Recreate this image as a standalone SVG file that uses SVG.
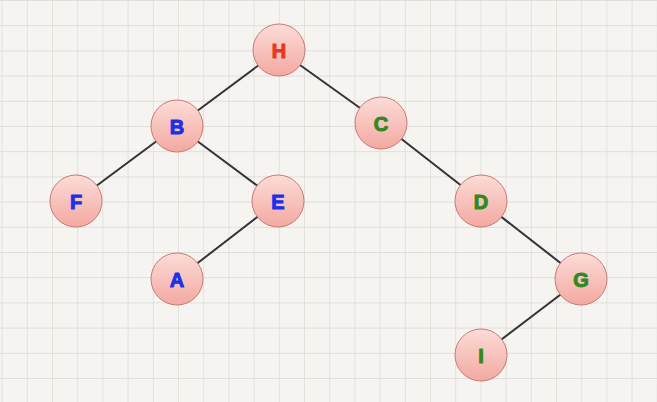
<svg xmlns="http://www.w3.org/2000/svg" width="657" height="402" viewBox="0 0 657 402">
  <defs>
    <pattern id="grid" x="1.6" y="0" width="25.2" height="25.2" patternUnits="userSpaceOnUse">
      <path d="M0 0 V25.2 M0 0 H25.2" fill="none" stroke="#d9d8d4" stroke-width="1.3"/>
    </pattern>
    <linearGradient id="nodeFill" x1="0" y1="0" x2="0" y2="1">
      <stop offset="0" stop-color="#fcdcd7"/>
      <stop offset="1" stop-color="#f3a9a2"/>
    </linearGradient>
  </defs>
  <style>
    .node circle { fill: url(#nodeFill); stroke: #c97a73; stroke-width: 1; }
    .node text { font-family: "Liberation Sans", Arial, sans-serif; font-weight: bold; font-size: 20px; text-anchor: middle; dominant-baseline: central; stroke-width: 1; stroke-linejoin: round; }
    .red { fill: #e6361f; stroke: #e6361f; }
    .blue { fill: #1c30e8; stroke: #1c30e8; }
    .green { fill: #2f8a1f; stroke: #2f8a1f; }
    .edges line { stroke: #333333; stroke-width: 2; }
  </style>
  <rect width="657" height="402" fill="#f5f4f0"/>
  <rect width="657" height="402" fill="url(#grid)"/>
  <g id="connectors" class="edges">
    <line x1="279" y1="50" x2="177" y2="126"/>
    <line x1="279" y1="50" x2="381" y2="123"/>
    <line x1="177" y1="126" x2="76" y2="201"/>
    <line x1="177" y1="126" x2="278" y2="201"/>
    <line x1="278" y1="201" x2="177" y2="279"/>
    <line x1="381" y1="123" x2="481" y2="201"/>
    <line x1="481" y1="201" x2="581" y2="279"/>
    <line x1="581" y1="279" x2="481" y2="355"/>
  </g>
  <g id="node-H" class="node"><circle cx="279" cy="50" r="26"/><text x="279" y="51" class="red">H</text></g>
  <g id="node-B" class="node"><circle cx="177" cy="126" r="26"/><text x="177" y="127" class="blue">B</text></g>
  <g id="node-C" class="node"><circle cx="381" cy="123" r="26"/><text x="381" y="124" class="green">C</text></g>
  <g id="node-F" class="node"><circle cx="76" cy="201" r="26"/><text x="76" y="202" class="blue">F</text></g>
  <g id="node-E" class="node"><circle cx="278" cy="201" r="26"/><text x="278" y="202" class="blue">E</text></g>
  <g id="node-D" class="node"><circle cx="481" cy="201" r="26"/><text x="481" y="202" class="green">D</text></g>
  <g id="node-A" class="node"><circle cx="177" cy="279" r="26"/><text x="177" y="280" class="blue">A</text></g>
  <g id="node-G" class="node"><circle cx="581" cy="279" r="26"/><text x="581" y="280" class="green">G</text></g>
  <g id="node-I" class="node"><circle cx="481" cy="355" r="26"/><text x="481" y="356" class="green">I</text></g>
</svg>
